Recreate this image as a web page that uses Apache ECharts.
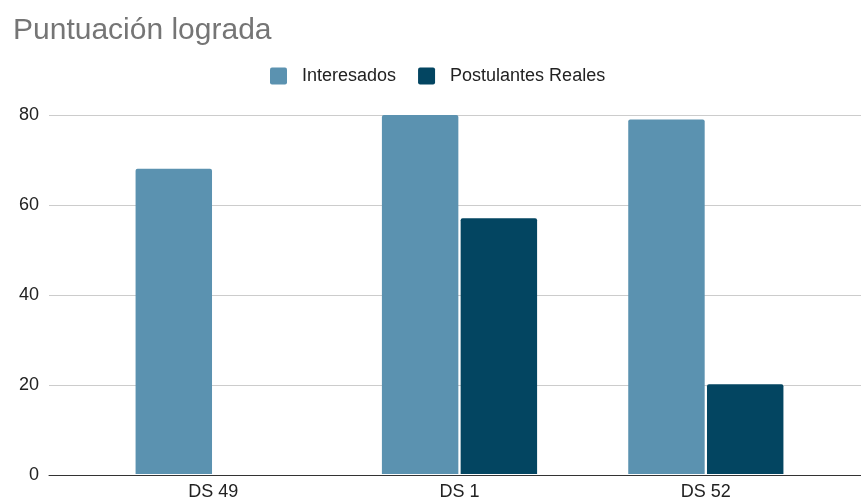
<!DOCTYPE html>
<html>
<head>
<meta charset="utf-8">
<script src="https://cdn.jsdelivr.net/npm/echarts@6/dist/echarts.min.js"></script>
<style>
  html, body { margin: 0; padding: 0; background: #fff; }
  #chart { width: 861px; height: 501px; }
</style>
</head>
<body>
<div id="chart"></div>
<script>
var categories = ['DS 49', 'DS 1', 'DS 52'];
var interesados = [68, 80, 79];
var postulantes = [0, 57, 20];
var yTicks = [0, 20, 40, 60, 80];

var chart = echarts.init(document.getElementById('chart'));

var option = {
	animation: false,
	textStyle: { fontFamily: 'Liberation Sans, Arial, sans-serif' },
	title: {
		text: 'Puntuación lograda',
		left: 8,
		top: 11,
		textStyle: { color: '#757575', fontSize: 30, fontWeight: 'normal' }
	},
	legend: {
		data: ['Interesados', 'Postulantes Reales'],
		top: 67,
		left: 270,
		padding: 0,
		itemWidth: 17,
		itemHeight: 17,
		itemGap: 22,
		icon: 'path://M2,0 L15,0 Q17,0 17,2 L17,15 Q17,17 15,17 L2,17 Q0,17 0,15 L0,2 Q0,0 2,0 Z',
		textStyle: { fontSize: 18, color: '#222', padding: [0, 0, 0, 10] }
	},
	grid: [
		{ left: 49, right: 0, top: 115, bottom: 26 },
		{ left: 90, right: 32, top: 115, bottom: 26 }
	],
	xAxis: [
		{
			gridIndex: 0, type: 'value', min: 0, max: 1,
			show: true,
			axisLine: { show: true, onZero: false, lineStyle: { color: '#333', width: 1 } },
			axisTick: { show: false }, axisLabel: { show: false }, splitLine: { show: false }
		},
		{
			gridIndex: 1, type: 'category', data: categories,
			axisLine: { show: false }, axisTick: { show: false },
			axisLabel: { fontSize: 18, color: '#222', margin: 9 }
		}
	],
	yAxis: [
		{
			gridIndex: 0, type: 'value', min: 0, max: 80, interval: 20,
			axisLine: { show: false }, axisTick: { show: false },
			axisLabel: { fontSize: 18, color: '#222', margin: 10 },
			splitLine: { lineStyle: { color: '#cccccc', width: 1 } }
		},
		{
			gridIndex: 1, type: 'value', min: 0, max: 80, show: false,
			splitLine: { show: false }
		}
	],
	series: [
		{
			name: 'Interesados', type: 'bar', xAxisIndex: 1, yAxisIndex: 1,
			data: interesados, color: '#5b92b0',
			barCategoryGap: '37%', barGap: '3%',
			itemStyle: { borderRadius: [2, 2, 0, 0] }
		},
		{
			name: 'Postulantes Reales', type: 'bar', xAxisIndex: 1, yAxisIndex: 1,
			data: postulantes, color: '#034561',
			itemStyle: { borderRadius: [2, 2, 0, 0] }
		}
	]
};

chart.setOption(option);
</script>
</body>
</html>
